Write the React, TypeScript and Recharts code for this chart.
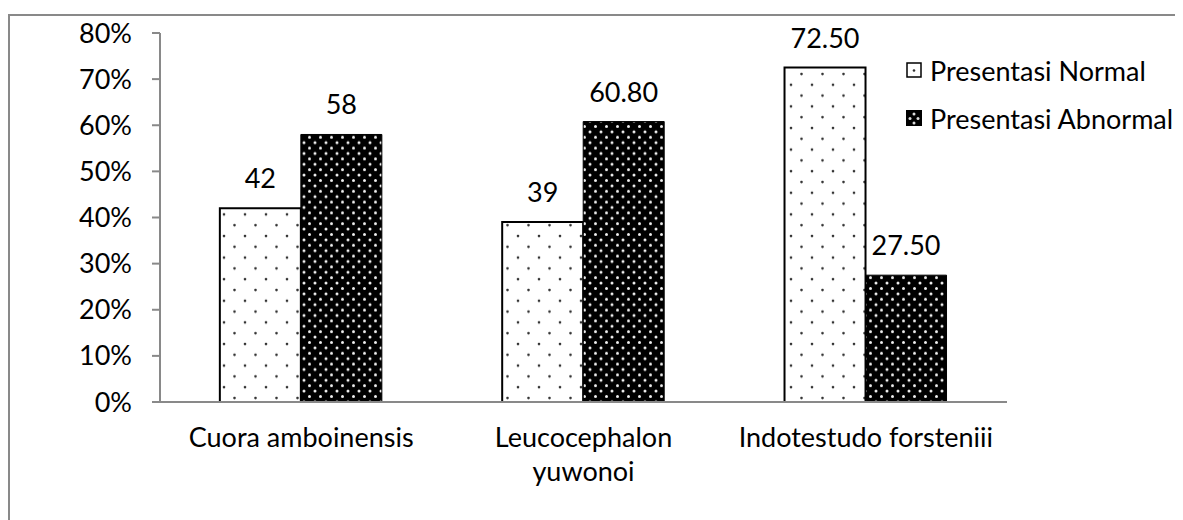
import { BarChart, Bar, XAxis, YAxis, LabelList, Legend } from "recharts";

// kategori spesies dan nilai persentase
const species = ["Cuora amboinensis", "Leucocephalon yuwonoi", "Indotestudo forsteniii"];
const speciesLines = [["Cuora amboinensis"], ["Leucocephalon", "yuwonoi"], ["Indotestudo forsteniii"]];
const normalValues = [42, 39, 72.5];
const abnormalValues = [58, 60.8, 27.5];
const normalLabels = ["42", "39", "72.50"];
const abnormalLabels = ["58", "60.80", "27.50"];
const yTicks = [0, 10, 20, 30, 40, 50, 60, 70, 80];
const edgeTicks = [0, 1, 2, 3];
const seriesOrder = ["normal", "abnormal"];

const chartData = species.map((name, i) => ({
  name,
  normal: normalValues[i],
  abnormal: abnormalValues[i],
  normalLabel: normalLabels[i],
  abnormalLabel: abnormalLabels[i],
}));

const AXIS = "#898989";
const FONT = "Lato, 'Open Sans', sans-serif";
const FS = 27;

const SpeciesTick = (props: any) => {
  const { x, y, payload } = props;
  const idx = species.indexOf(payload.value);
  const lines = speciesLines[idx] || [payload.value];
  return (
    <g transform={`translate(${x},${y})`}>
      {lines.map((line, i) => (
        <text key={i} x={0} y={37 + i * 34} textAnchor="middle" fill="#000">
          {line}
        </text>
      ))}
    </g>
  );
};

const LegendIcon = ({ kind }: { kind: string }) =>
  kind === "normal" ? (
    <svg width={16} height={16}>
      <rect x={1} y={1} width={14} height={14} fill="#fff" stroke="#000" strokeWidth={1.5} />
      <circle cx={8} cy={8.5} r={1.3} fill="#333" />
    </svg>
  ) : (
    <svg width={16} height={16}>
      <rect x={0} y={0} width={16} height={16} fill="#000" />
      <circle cx={8} cy={4} r={1.5} fill="#ddd" />
      <circle cx={4} cy={8.5} r={1.5} fill="#ddd" />
      <circle cx={12} cy={8.5} r={1.5} fill="#ddd" />
      <circle cx={8} cy={13} r={1.5} fill="#ddd" />
    </svg>
  );

const LegendBox = (props: any) => {
  const { payload = [] } = props;
  const items = [...payload].sort(
    (a: any, b: any) => seriesOrder.indexOf(a.dataKey) - seriesOrder.indexOf(b.dataKey)
  );
  return (
    <div>
      {items.map((entry: any) => (
        <div
          key={entry.dataKey}
          style={{ display: "flex", alignItems: "center", height: 48, color: "#000", whiteSpace: "nowrap" }}
        >
          <LegendIcon kind={entry.dataKey} />
          <span style={{ marginLeft: 8 }}>{entry.value}</span>
        </div>
      ))}
    </div>
  );
};

export default function App() {
  return (
    <div
      style={{
        marginTop: 6,
        width: 1175,
        height: 530,
        border: `2px solid ${AXIS}`,
        boxSizing: "border-box",
        fontFamily: FONT,
        fontSize: FS,
      }}
    >
      <BarChart
        width={1171}
        height={500}
        data={chartData}
        margin={{ top: 17, right: 174, left: 80, bottom: 34 }}
        barCategoryGap="21.2%"
        barGap={0}
      >
        <defs>
          <pattern id="dotsLight" width={21} height={21.6} patternUnits="userSpaceOnUse">
            <rect width={21} height={21.6} fill="#fff" />
            <circle cx={4} cy={4} r={1.3} fill="#333" />
            <circle cx={14.5} cy={14.8} r={1.3} fill="#333" />
          </pattern>
          <pattern id="dotsDark" width={11} height={10.8} patternUnits="userSpaceOnUse">
            <rect width={11} height={10.8} fill="#000" />
            <circle cx={2.5} cy={2.5} r={1.5} fill="#f0f0f0" />
            <circle cx={8} cy={7.9} r={1.5} fill="#f0f0f0" />
          </pattern>
        </defs>
        <XAxis
          xAxisId="edge"
          type="number"
          domain={[0, 3]}
          ticks={edgeTicks}
          height={0}
          axisLine={false}
          tickSize={8}
          tickLine={{ stroke: AXIS, strokeWidth: 2 }}
          tick={() => <g />}
        />
        <XAxis
          xAxisId="cat"
          dataKey="name"
          height={80}
          axisLine={{ stroke: AXIS, strokeWidth: 2 }}
          tickLine={false}
          tick={<SpeciesTick />}
          interval={0}
        />
        <YAxis
          domain={[0, 80]}
          ticks={yTicks}
          width={70}
          tickFormatter={(v: number) => `${v}%`}
          axisLine={{ stroke: AXIS, strokeWidth: 2 }}
          tickLine={{ stroke: AXIS, strokeWidth: 2 }}
          tickSize={8}
          tickMargin={20}
          tick={{ fill: "#000", fontSize: FS }}
        />
        <Legend
          layout="horizontal"
          align="center"
          verticalAlign="middle"
          content={<LegendBox />}
          wrapperStyle={{ left: 896, top: 30, width: "auto" }}
        />
        <Bar
          xAxisId="cat"
          dataKey="normal"
          name="Presentasi Normal"
          fill="url(#dotsLight)"
          stroke="#000"
          strokeWidth={2}
          isAnimationActive={false}
        >
          <LabelList dataKey="normalLabel" position="top" offset={20} fill="#000" fontSize={FS} />
        </Bar>
        <Bar
          xAxisId="cat"
          dataKey="abnormal"
          name="Presentasi Abnormal"
          fill="url(#dotsDark)"
          stroke="#000"
          strokeWidth={1}
          isAnimationActive={false}
        >
          <LabelList dataKey="abnormalLabel" position="top" offset={20} fill="#000" fontSize={FS} />
        </Bar>
      </BarChart>
    </div>
  );
}
